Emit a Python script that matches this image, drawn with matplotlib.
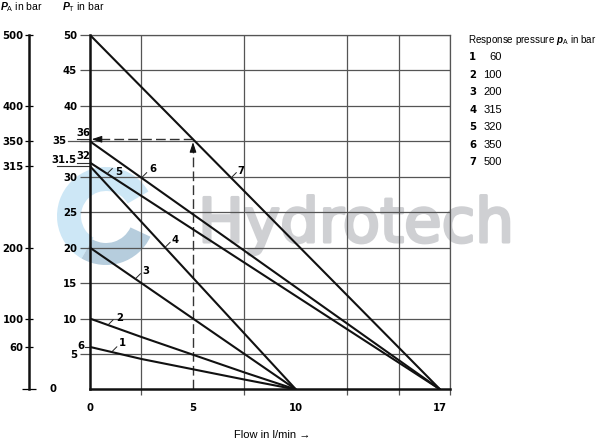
import numpy as np
import matplotlib
matplotlib.use('Agg')
import matplotlib.pyplot as plt
import matplotlib.patheffects as pe
from matplotlib.patches import Wedge

plt.rcParams['font.family'] = ['Liberation Sans', 'DejaVu Sans']
plt.rcParams['mathtext.fontset'] = 'custom'
plt.rcParams['mathtext.it'] = 'Liberation Sans:italic:bold'
plt.rcParams['mathtext.rm'] = 'Liberation Sans'

######## data
curve_ids = ['1', '2', '3', '4', '5', '6', '7']
response_pa = [60, 100, 200, 315, 320, 350, 500]

flow_1 = [0, 2.5, 5, 7.5, 10]
pt_1 = [6, 4.3, 2.85, 1.4, 0]
flow_2 = [0, 2.5, 5, 7.5, 10]
pt_2 = [10, 7.4, 4.9, 2.4, 0]
flow_3 = [0, 10]
pt_3 = [20, 0]
flow_4 = [0, 10]
pt_4 = [31.5, 0]
flow_5 = [0, 17]
pt_5 = [32, 0]
flow_6 = [0, 17]
pt_6 = [35, 0]
flow_7 = [0, 17]
pt_7 = [50, 0]

pt_ticks = [5, 10, 15, 20, 25, 30, 35, 40, 45, 50]
pa_ticks = [60, 100, 200, 315, 350, 400, 500]
flow_ticks = [0, 5, 10, 17]
flow_example = 5          # dashed reading example on curve 7
########

curves = [(flow_1, pt_1), (flow_2, pt_2), (flow_3, pt_3), (flow_4, pt_4),
          (flow_5, pt_5), (flow_6, pt_6), (flow_7, pt_7)]
# where the little leader line starts (flow) and label centre offset in points
label_at = [1.05, 0.87, 2.2, 3.64, 0.83, 2.5, 6.85]
label_off = [(7.4, 6.6), (8.8, 5.2), (7.4, 5.6), (7.0, 5.4), (8.3, 0.9), (8.2, 6.6), (6.9, 5.0)]

NUM = dict(family='DejaVu Sans', fontweight='bold', fontsize=7.3)

fig = plt.figure(figsize=(6, 4.43), dpi=100)

######## background: watermark, pixel coordinates (y down)
bg = fig.add_axes([0, 0, 1, 1], zorder=0)
bg.set_xlim(0, 600)
bg.set_ylim(443, 0)
bg.axis('off')
bg.add_patch(Wedge((106, 216), 49, 120, 330, width=24, color='#cde7f6', lw=0))
bg.add_patch(Wedge((106, 216), 49, 25, 120, width=22, color='#b6cddd', lw=0))
bg.text(198, 242, 'Hydrotech', fontsize=44, color='#cfd0d3', family='DejaVu Sans',
        ha='left', va='baseline',
        path_effects=[pe.withStroke(linewidth=2.2, foreground='#cfd0d3')])

######## main chart
ax = fig.add_axes([0.15, 0.1208, 0.6008, 0.8002], zorder=1)
ax.patch.set_alpha(0)
ax.set_xlim(0, 17.5)
ax.set_ylim(0, 50)

for (fx, py) in curves:
    ax.plot(fx, py, color='#111111', lw=1.5, solid_capstyle='butt', zorder=3)

for i, (fx, py) in enumerate(curves):
    x0 = label_at[i]
    y0 = np.interp(x0, fx, py)
    ax.annotate('', xy=(x0, y0), xytext=(3.8, 3.8), textcoords='offset points',
                arrowprops=dict(arrowstyle='-', lw=0.7, color='#222222', shrinkA=0, shrinkB=0))
    ax.annotate(curve_ids[i], xy=(x0, y0), xytext=label_off[i], textcoords='offset points',
                ha='center', va='center', **NUM)

# reading example: flow 5 -> curve 7 -> pressure
y_ex = np.interp(flow_example, flow_7, pt_7)
ax.plot([flow_example, flow_example], [0, y_ex - 1.0], ls=(0, (7, 3)), color='#333333', lw=1.0, zorder=2)
ax.plot([flow_example, 0.5], [y_ex, y_ex], ls=(0, (7, 3)), color='#333333', lw=1.0, zorder=2)
ax.annotate('', xy=(flow_example, y_ex - 0.4), xytext=(flow_example, y_ex - 1.3),
            arrowprops=dict(arrowstyle='-|>,head_length=0.6,head_width=0.2', color='#111111', lw=0.8,
                            shrinkA=0, shrinkB=0))
ax.annotate('', xy=(0.08, y_ex), xytext=(0.55, y_ex),
            arrowprops=dict(arrowstyle='-|>,head_length=0.6,head_width=0.2', color='#111111', lw=0.8,
                            shrinkA=0, shrinkB=0))

# grid & spines
grid_c = '#555555'
ax.set_xticks(flow_ticks)
ax.set_xticklabels([str(v) for v in flow_ticks], **NUM)
ax.set_xticks(np.arange(0, 17.6, 2.5), minor=True)
ax.tick_params(axis='x', which='major', length=0, pad=10)
ax.tick_params(axis='x', which='minor', length=4.5, width=0.9, color=grid_c, direction='out')
ax.set_yticks(pt_ticks)
ax.set_yticklabels(['' if v == 35 else str(v) for v in pt_ticks], **NUM)
ax.tick_params(axis='y', length=7.2, width=0.9, color=grid_c, pad=2)
ax.grid(which='minor', axis='x', color=grid_c, lw=0.9)
ax.grid(which='major', axis='y', color=grid_c, lw=0.9)
ax.set_axisbelow(True)
for s in ['top', 'right']:
    ax.spines[s].set_color(grid_c)
    ax.spines[s].set_linewidth(0.9)
for s in ['left', 'bottom']:
    ax.spines[s].set_color('#111111')
    ax.spines[s].set_linewidth(1.8)
    ax.spines[s].set_zorder(4)

# extra marks on pressure axis
ax.plot([-1.07, 0], [35, 35], color=grid_c, lw=0.9, clip_on=False)
ax.annotate('35', xy=(-1.07, 35), xytext=(-1, 0), textcoords='offset points',
            ha='right', va='center', annotation_clip=False, **NUM)
ax.plot([-0.63, 0], [y_ex, y_ex], color='#333333', lw=0.8, clip_on=False)
ax.annotate('36', xy=(-0.32, y_ex), xytext=(0, 1), textcoords='offset points',
            ha='center', va='bottom', annotation_clip=False, **NUM)
ax.plot([-0.63, 0], [pt_5[0], pt_5[0]], color='#333333', lw=0.8, clip_on=False)
ax.annotate('32', xy=(-0.32, pt_5[0]), xytext=(0, 1), textcoords='offset points',
            ha='center', va='bottom', annotation_clip=False, **NUM)
ax.plot([-1.6, 0], [pt_4[0], pt_4[0]], color='#333333', lw=0.8, clip_on=False)
ax.annotate('31.5', xy=(-1.28, pt_4[0]), xytext=(0, 1), textcoords='offset points',
            ha='center', va='bottom', annotation_clip=False, **NUM)
ax.plot([-0.24, 0], [pt_1[0], pt_1[0]], color='#333333', lw=0.8, clip_on=False)
ax.annotate('6', xy=(-0.24, pt_1[0]), xytext=(-0.5, 1), textcoords='offset points',
            ha='right', va='center', annotation_clip=False, **NUM)

######## response pressure axis (p_A = 10 * p_T)
axa = fig.add_axes([29 / 600, 0.1208, 0.0001, 0.8002], zorder=1)
axa.patch.set_alpha(0)
axa.set_ylim(0, 500)
axa.set_xticks([])
for s in ['top', 'right', 'bottom']:
    axa.spines[s].set_visible(False)
axa.spines['left'].set_linewidth(1.8)
axa.spines['left'].set_color('#111111')
axa.set_yticks(pa_ticks)
axa.set_yticklabels([str(v) for v in pa_ticks], **NUM)
axa.set_yticks([0], minor=True)
axa.tick_params(axis='y', which='major', direction='inout', length=6, width=0.9, pad=1)
axa.tick_params(axis='y', which='minor', direction='inout', length=9.5, width=0.9)

######## texts in pixel coords
bg.text(53, 389, '0', ha='center', va='center', **NUM)
bg.text(0, 7, r'$\mathit{P}_{\mathrm{A}}$ in bar', fontsize=7.5, ha='left', va='center')
bg.text(62, 7, r'$\mathit{P}_{\mathrm{T}}$ in bar', fontsize=7.5, ha='left', va='center')
bg.text(272, 435, 'Flow in l/min →', fontsize=8, ha='center', va='center')

bg.text(468, 40, r'Response pressure $\mathit{p}_{\mathrm{A}}$ in bar', fontsize=7.1, ha='left', va='center')
for i in range(len(curve_ids)):
    yy = 57 + i * 17.5
    bg.text(469, yy, curve_ids[i], ha='left', va='center', **NUM)
    bg.text(502, yy, str(response_pa[i]), fontsize=8, ha='right', va='center')

fig.savefig('out.png', dpi=100)
